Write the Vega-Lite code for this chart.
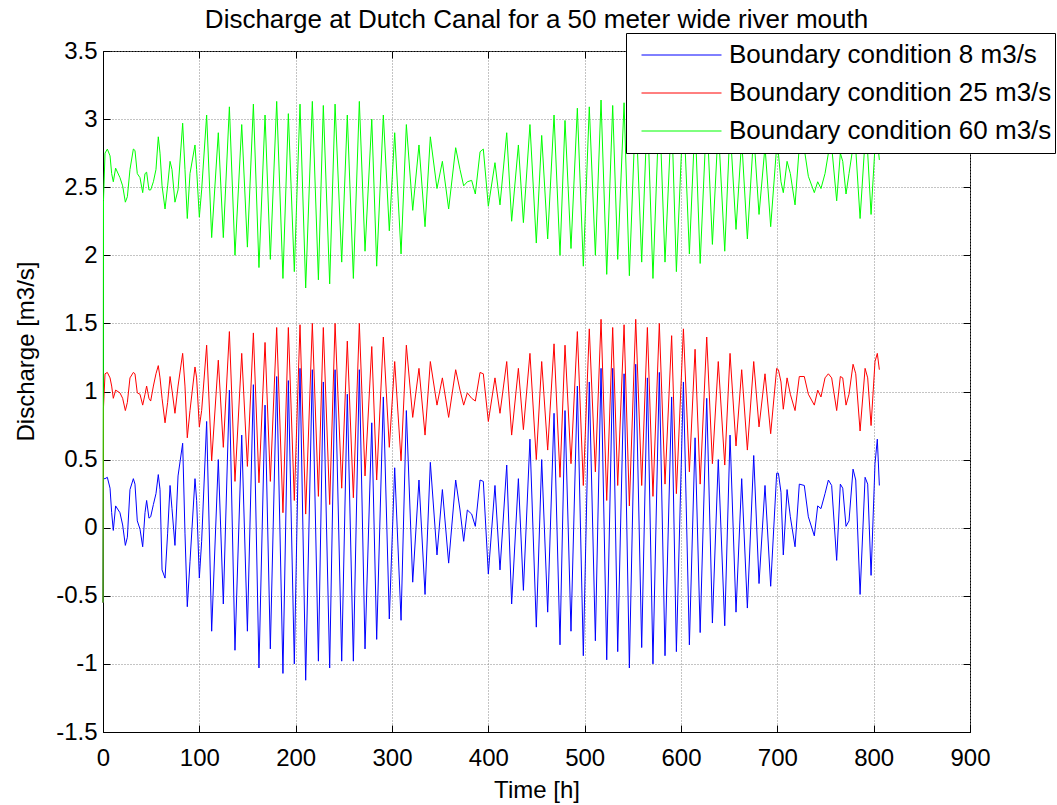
{
  "$schema": "https://vega.github.io/schema/vega-lite/v6.json",
  "width": 867,
  "height": 681,
  "autosize": "none",
  "padding": {"left": 103, "top": 51, "right": 87, "bottom": 73},
  "background": "white",
  "config": {
    "font": "Liberation Sans",
    "view": {"stroke": "black", "strokeWidth": 1}
  },
  "title": {
    "text": "Discharge at Dutch Canal for a 50 meter wide river mouth",
    "font": "Liberation Sans",
    "fontSize": 26,
    "fontWeight": "normal",
    "color": "black",
    "anchor": "middle",
    "frame": "group",
    "baseline": "alphabetic",
    "offset": -21
  },
  "data": {
    "values": [
      {"t": 0, "b": -0.55, "r": -0.55, "g": -0.55},
      {"t": 0.5, "b": 0.36, "r": 0.88, "g": 2.4},
      {"t": 2.1, "b": 0.36, "r": 1.13, "g": 2.75},
      {"t": 4.5, "b": 0.37, "r": 1.14, "g": 2.78},
      {"t": 7.3, "b": 0.29, "r": 1.10, "g": 2.73},
      {"t": 9.0, "b": 0.11, "r": 1.04, "g": 2.60},
      {"t": 10.7, "b": -0.02, "r": 0.95, "g": 2.54},
      {"t": 13.1, "b": 0.16, "r": 1.01, "g": 2.64},
      {"t": 17.6, "b": 0.11, "r": 0.99, "g": 2.57},
      {"t": 20.4, "b": 0.02, "r": 0.95, "g": 2.51},
      {"t": 23.2, "b": -0.13, "r": 0.86, "g": 2.39},
      {"t": 25.3, "b": -0.07, "r": 0.92, "g": 2.43},
      {"t": 28.0, "b": 0.28, "r": 1.10, "g": 2.63},
      {"t": 31.5, "b": 0.36, "r": 1.14, "g": 2.78},
      {"t": 33.2, "b": 0.32, "r": 1.13, "g": 2.77},
      {"t": 35.6, "b": 0.05, "r": 0.99, "g": 2.60},
      {"t": 38.4, "b": -0.01, "r": 0.98, "g": 2.57},
      {"t": 41.2, "b": -0.14, "r": 0.90, "g": 2.46},
      {"t": 43.6, "b": 0.11, "r": 0.98, "g": 2.60},
      {"t": 45.3, "b": 0.20, "r": 1.04, "g": 2.61},
      {"t": 47.7, "b": 0.07, "r": 0.95, "g": 2.48},
      {"t": 49.5, "b": 0.08, "r": 0.93, "g": 2.48},
      {"t": 52.3, "b": 0.17, "r": 1.04, "g": 2.54},
      {"t": 55.0, "b": 0.25, "r": 1.13, "g": 2.63},
      {"t": 57.4, "b": 0.39, "r": 1.19, "g": 2.87},
      {"t": 59.2, "b": 0.28, "r": 1.10, "g": 2.75},
      {"t": 61.3, "b": -0.31, "r": 0.95, "g": 2.51},
      {"t": 64.4, "b": -0.37, "r": 0.77, "g": 2.34},
      {"t": 67.1, "b": -0.04, "r": 0.92, "g": 2.51},
      {"t": 69.6, "b": 0.31, "r": 1.11, "g": 2.69},
      {"t": 71.6, "b": 0.14, "r": 1.01, "g": 2.63},
      {"t": 74.7, "b": -0.13, "r": 0.84, "g": 2.39},
      {"t": 77.9, "b": 0.38, "r": 1.04, "g": 2.48},
      {"t": 82.7, "b": 0.62, "r": 1.28, "g": 2.97},
      {"t": 85.1, "b": -0.04, "r": 1.04, "g": 2.63},
      {"t": 87.5, "b": -0.58, "r": 0.66, "g": 2.27},
      {"t": 90.3, "b": -0.25, "r": 0.86, "g": 2.60},
      {"t": 95.5, "b": 0.36, "r": 1.18, "g": 2.81},
      {"t": 97.2, "b": 0.20, "r": 1.10, "g": 2.63},
      {"t": 100.0, "b": -0.37, "r": 0.74, "g": 2.28},
      {"t": 102.4, "b": -0.10, "r": 0.86, "g": 2.48},
      {"t": 107.6, "b": 0.78, "r": 1.34, "g": 3.03},
      {"t": 112.8, "b": -0.76, "r": 0.49, "g": 2.13},
      {"t": 119.7, "b": 0.50, "r": 1.23, "g": 2.90},
      {"t": 124.9, "b": -0.56, "r": 0.59, "g": 2.13},
      {"t": 131.2, "b": 1.01, "r": 1.44, "g": 3.09},
      {"t": 137.0, "b": -0.90, "r": 0.34, "g": 2.00},
      {"t": 144.0, "b": 0.68, "r": 1.28, "g": 2.96},
      {"t": 149.9, "b": -0.76, "r": 0.45, "g": 2.06},
      {"t": 156.1, "b": 1.05, "r": 1.43, "g": 3.11},
      {"t": 161.9, "b": -1.03, "r": 0.33, "g": 1.91},
      {"t": 168.2, "b": 0.90, "r": 1.36, "g": 3.03},
      {"t": 173.7, "b": -0.89, "r": 0.34, "g": 1.97},
      {"t": 180.3, "b": 1.11, "r": 1.47, "g": 3.13},
      {"t": 186.8, "b": -1.07, "r": 0.11, "g": 1.83},
      {"t": 192.4, "b": 1.08, "r": 1.47, "g": 3.04},
      {"t": 198.6, "b": -1.00, "r": 0.20, "g": 1.88},
      {"t": 204.5, "b": 1.17, "r": 1.49, "g": 3.11},
      {"t": 210.4, "b": -1.12, "r": 0.10, "g": 1.76},
      {"t": 217.3, "b": 1.16, "r": 1.50, "g": 3.13},
      {"t": 223.6, "b": -0.98, "r": 0.23, "g": 1.82},
      {"t": 228.7, "b": 1.07, "r": 1.47, "g": 3.10},
      {"t": 235.3, "b": -1.03, "r": 0.17, "g": 1.79},
      {"t": 240.9, "b": 1.16, "r": 1.50, "g": 3.11},
      {"t": 247.8, "b": -0.98, "r": 0.29, "g": 1.95},
      {"t": 253.6, "b": 0.98, "r": 1.37, "g": 3.03},
      {"t": 259.9, "b": -0.98, "r": 0.22, "g": 1.83},
      {"t": 266.1, "b": 1.16, "r": 1.50, "g": 3.13},
      {"t": 272.0, "b": -0.89, "r": 0.38, "g": 2.03},
      {"t": 279.0, "b": 0.77, "r": 1.33, "g": 3.00},
      {"t": 284.1, "b": -0.82, "r": 0.35, "g": 1.92},
      {"t": 291.0, "b": 0.96, "r": 1.40, "g": 3.03},
      {"t": 297.2, "b": -0.67, "r": 0.59, "g": 2.18},
      {"t": 302.8, "b": 0.44, "r": 1.22, "g": 2.90},
      {"t": 309.4, "b": -0.68, "r": 0.49, "g": 2.01},
      {"t": 314.9, "b": 0.86, "r": 1.34, "g": 2.96},
      {"t": 321.5, "b": -0.40, "r": 0.81, "g": 2.33},
      {"t": 328.0, "b": 0.35, "r": 1.17, "g": 2.81},
      {"t": 334.3, "b": -0.49, "r": 0.68, "g": 2.21},
      {"t": 339.8, "b": 0.48, "r": 1.22, "g": 2.87},
      {"t": 346.7, "b": -0.20, "r": 0.90, "g": 2.49},
      {"t": 352.3, "b": 0.28, "r": 1.10, "g": 2.69},
      {"t": 358.8, "b": -0.26, "r": 0.81, "g": 2.34},
      {"t": 366.1, "b": 0.35, "r": 1.16, "g": 2.79},
      {"t": 370.6, "b": 0.13, "r": 1.01, "g": 2.63},
      {"t": 374.4, "b": -0.10, "r": 0.90, "g": 2.51},
      {"t": 378.2, "b": 0.13, "r": 0.99, "g": 2.54},
      {"t": 382.7, "b": 0.10, "r": 0.95, "g": 2.55},
      {"t": 386.5, "b": 0.01, "r": 0.93, "g": 2.45},
      {"t": 391.4, "b": 0.35, "r": 1.14, "g": 2.76},
      {"t": 394.8, "b": 0.34, "r": 1.13, "g": 2.78},
      {"t": 400.0, "b": -0.34, "r": 0.78, "g": 2.36},
      {"t": 406.9, "b": 0.31, "r": 1.10, "g": 2.68},
      {"t": 412.1, "b": -0.31, "r": 0.84, "g": 2.37},
      {"t": 419.1, "b": 0.46, "r": 1.22, "g": 2.90},
      {"t": 424.2, "b": -0.56, "r": 0.68, "g": 2.25},
      {"t": 431.2, "b": 0.36, "r": 1.17, "g": 2.81},
      {"t": 436.4, "b": -0.46, "r": 0.72, "g": 2.24},
      {"t": 443.2, "b": 0.65, "r": 1.28, "g": 2.96},
      {"t": 449.8, "b": -0.73, "r": 0.50, "g": 2.09},
      {"t": 455.4, "b": 0.50, "r": 1.22, "g": 2.88},
      {"t": 461.6, "b": -0.62, "r": 0.57, "g": 2.12},
      {"t": 468.2, "b": 0.84, "r": 1.35, "g": 3.03},
      {"t": 474.4, "b": -0.86, "r": 0.37, "g": 2.00},
      {"t": 479.6, "b": 0.86, "r": 1.34, "g": 2.99},
      {"t": 485.8, "b": -0.76, "r": 0.47, "g": 2.05},
      {"t": 492.4, "b": 1.04, "r": 1.44, "g": 3.08},
      {"t": 498.6, "b": -0.94, "r": 0.31, "g": 1.92},
      {"t": 504.8, "b": 1.07, "r": 1.46, "g": 3.09},
      {"t": 511.1, "b": -0.83, "r": 0.41, "g": 2.00},
      {"t": 517.0, "b": 1.17, "r": 1.53, "g": 3.14},
      {"t": 522.9, "b": -0.97, "r": 0.20, "g": 1.86},
      {"t": 529.1, "b": 1.17, "r": 1.47, "g": 3.10},
      {"t": 534.3, "b": -0.91, "r": 0.31, "g": 1.97},
      {"t": 540.9, "b": 1.13, "r": 1.49, "g": 3.12},
      {"t": 546.4, "b": -1.03, "r": 0.16, "g": 1.85},
      {"t": 553.0, "b": 1.20, "r": 1.53, "g": 3.10},
      {"t": 559.2, "b": -0.88, "r": 0.31, "g": 1.95},
      {"t": 565.1, "b": 1.10, "r": 1.47, "g": 3.08},
      {"t": 570.9, "b": -1.00, "r": 0.23, "g": 1.83},
      {"t": 577.5, "b": 1.14, "r": 1.50, "g": 3.12},
      {"t": 583.4, "b": -0.94, "r": 0.32, "g": 1.95},
      {"t": 590.3, "b": 0.96, "r": 1.41, "g": 3.05},
      {"t": 595.2, "b": -0.91, "r": 0.25, "g": 1.88},
      {"t": 602.5, "b": 1.07, "r": 1.46, "g": 3.10},
      {"t": 608.7, "b": -0.86, "r": 0.41, "g": 2.01},
      {"t": 614.6, "b": 0.66, "r": 1.31, "g": 3.00},
      {"t": 619.9, "b": -0.77, "r": 0.32, "g": 1.94},
      {"t": 626.7, "b": 0.95, "r": 1.40, "g": 3.05},
      {"t": 632.6, "b": -0.70, "r": 0.47, "g": 2.08},
      {"t": 638.7, "b": 0.50, "r": 1.22, "g": 2.95},
      {"t": 645.4, "b": -0.72, "r": 0.46, "g": 2.03},
      {"t": 650.9, "b": 0.68, "r": 1.28, "g": 2.95},
      {"t": 657.1, "b": -0.62, "r": 0.60, "g": 2.19},
      {"t": 663.0, "b": 0.36, "r": 1.16, "g": 2.85},
      {"t": 668.9, "b": -0.59, "r": 0.57, "g": 2.12},
      {"t": 675.5, "b": 0.53, "r": 1.22, "g": 2.90},
      {"t": 681.0, "b": -0.41, "r": 0.74, "g": 2.30},
      {"t": 687.2, "b": 0.31, "r": 1.13, "g": 2.80},
      {"t": 693.1, "b": -0.43, "r": 0.69, "g": 2.21},
      {"t": 699.3, "b": 0.40, "r": 1.17, "g": 2.80},
      {"t": 701.1, "b": 0.40, "r": 1.16, "g": 2.75},
      {"t": 703.8, "b": 0.26, "r": 1.07, "g": 2.54},
      {"t": 706.2, "b": -0.20, "r": 0.87, "g": 2.46},
      {"t": 710.1, "b": 0.28, "r": 1.10, "g": 2.69},
      {"t": 713.5, "b": 0.08, "r": 0.98, "g": 2.60},
      {"t": 718.4, "b": -0.14, "r": 0.86, "g": 2.37},
      {"t": 722.8, "b": 0.32, "r": 1.11, "g": 2.80},
      {"t": 728.0, "b": 0.31, "r": 1.11, "g": 2.78},
      {"t": 732.2, "b": 0.08, "r": 0.98, "g": 2.58},
      {"t": 738.4, "b": -0.06, "r": 0.90, "g": 2.46},
      {"t": 741.9, "b": 0.16, "r": 1.01, "g": 2.54},
      {"t": 745.3, "b": 0.14, "r": 0.96, "g": 2.49},
      {"t": 749.5, "b": 0.25, "r": 1.10, "g": 2.60},
      {"t": 753.0, "b": 0.35, "r": 1.13, "g": 2.75},
      {"t": 756.4, "b": 0.31, "r": 1.10, "g": 2.80},
      {"t": 761.6, "b": -0.24, "r": 0.86, "g": 2.40},
      {"t": 765.4, "b": 0.32, "r": 1.11, "g": 2.75},
      {"t": 767.9, "b": 0.29, "r": 1.10, "g": 2.69},
      {"t": 771.3, "b": 0.01, "r": 0.90, "g": 2.45},
      {"t": 774.4, "b": 0.05, "r": 0.98, "g": 2.60},
      {"t": 778.6, "b": 0.43, "r": 1.20, "g": 2.80},
      {"t": 781.4, "b": 0.35, "r": 1.13, "g": 2.78},
      {"t": 785.9, "b": -0.49, "r": 0.71, "g": 2.27},
      {"t": 791.1, "b": 0.37, "r": 1.17, "g": 2.85},
      {"t": 793.8, "b": 0.32, "r": 1.10, "g": 2.75},
      {"t": 797.3, "b": -0.35, "r": 0.75, "g": 2.30},
      {"t": 801.4, "b": 0.47, "r": 1.22, "g": 2.80},
      {"t": 803.8, "b": 0.65, "r": 1.28, "g": 2.85},
      {"t": 805.9, "b": 0.31, "r": 1.16, "g": 2.70}
    ]
  },
  "transform": [{"fold": ["b", "r", "g"], "as": ["series", "value"]}],
  "layer": [
    {
      "mark": {"type": "line", "strokeWidth": 1},
      "encoding": {
        "x": {
          "field": "t",
          "type": "quantitative",
          "scale": {"domain": [0, 900], "nice": false, "zero": false},
          "axis": {
            "values": [0, 100, 200, 300, 400, 500, 600, 700, 800, 900],
            "grid": true,
            "gridColor": "#888888",
            "gridDash": [1, 2],
            "gridOpacity": 1,
            "tickSize": -7,
            "tickColor": "black",
            "domainColor": "black",
            "labelFont": "Liberation Sans",
            "labelFontSize": 24,
            "labelColor": "black",
            "labelPadding": 21,
            "labelFlush": false,
            "labelOverlap": false,
            "title": "Time [h]",
            "titleFont": "Liberation Sans",
            "titleFontSize": 24,
            "titleFontWeight": "normal",
            "titleColor": "black",
            "titleBaseline": "top",
            "titleY": 46
          }
        },
        "y": {
          "field": "value",
          "type": "quantitative",
          "scale": {"domain": [-1.5, 3.5], "nice": false, "zero": false},
          "axis": {
            "values": [-1.5, -1, -0.5, 0, 0.5, 1, 1.5, 2, 2.5, 3, 3.5],
            "labelExpr": "toString(datum.value)",
            "grid": true,
            "gridColor": "#888888",
            "gridDash": [1, 2],
            "gridOpacity": 1,
            "tickSize": -7,
            "tickColor": "black",
            "domainColor": "black",
            "labelFont": "Liberation Sans",
            "labelFontSize": 24,
            "labelColor": "black",
            "labelPadding": 13,
            "labelFlush": false,
            "labelOverlap": false,
            "title": "Discharge [m3/s]",
            "titleFont": "Liberation Sans",
            "titleFontSize": 24,
            "titleFontWeight": "normal",
            "titleColor": "black",
            "titleBaseline": "alphabetic",
            "titleX": -70,
            "titleY": 300
          }
        },
        "color": {
          "field": "series",
          "type": "nominal",
          "scale": {"domain": ["b", "r", "g"], "range": ["#0000ff", "#ff0000", "#00ff00"]},
          "legend": {
            "orient": "none",
            "legendX": 523,
            "legendY": -18,
            "title": null,
            "symbolType": "stroke",
            "symbolSize": 6400,
            "symbolStrokeWidth": 1,
            "clipHeight": 38,
            "rowPadding": 0,
            "padding": 3,
            "symbolOffset": 12,
            "labelOffset": 7,
            "labelFont": "Liberation Sans",
            "labelFontSize": 26,
            "labelColor": "black",
            "labelLimit": 500,
            "strokeColor": "black",
            "fillColor": "white",
            "labelExpr": "datum.value == 'b' ? 'Boundary condition 8 m3/s' : datum.value == 'r' ? 'Boundary condition 25 m3/s' : 'Boundary condition 60 m3/s'"
          }
        }
      }
    },
    {
      "mark": {"type": "point", "opacity": 0},
      "encoding": {
        "x": {
          "field": "t",
          "type": "quantitative",
          "axis": {
            "orient": "top",
            "values": [0, 100, 200, 300, 400, 500, 600, 700, 800, 900],
            "labels": false,
            "grid": false,
            "domain": false,
            "tickSize": -7,
            "tickColor": "black",
            "title": null
          }
        },
        "y": {
          "field": "value",
          "type": "quantitative",
          "axis": {
            "orient": "right",
            "values": [-1.5, -1, -0.5, 0, 0.5, 1, 1.5, 2, 2.5, 3, 3.5],
            "labels": false,
            "grid": false,
            "domain": false,
            "tickSize": -7,
            "tickColor": "black",
            "title": null
          }
        }
      }
    }
  ],
  "resolve": {"axis": {"x": "independent", "y": "independent"}}
}
